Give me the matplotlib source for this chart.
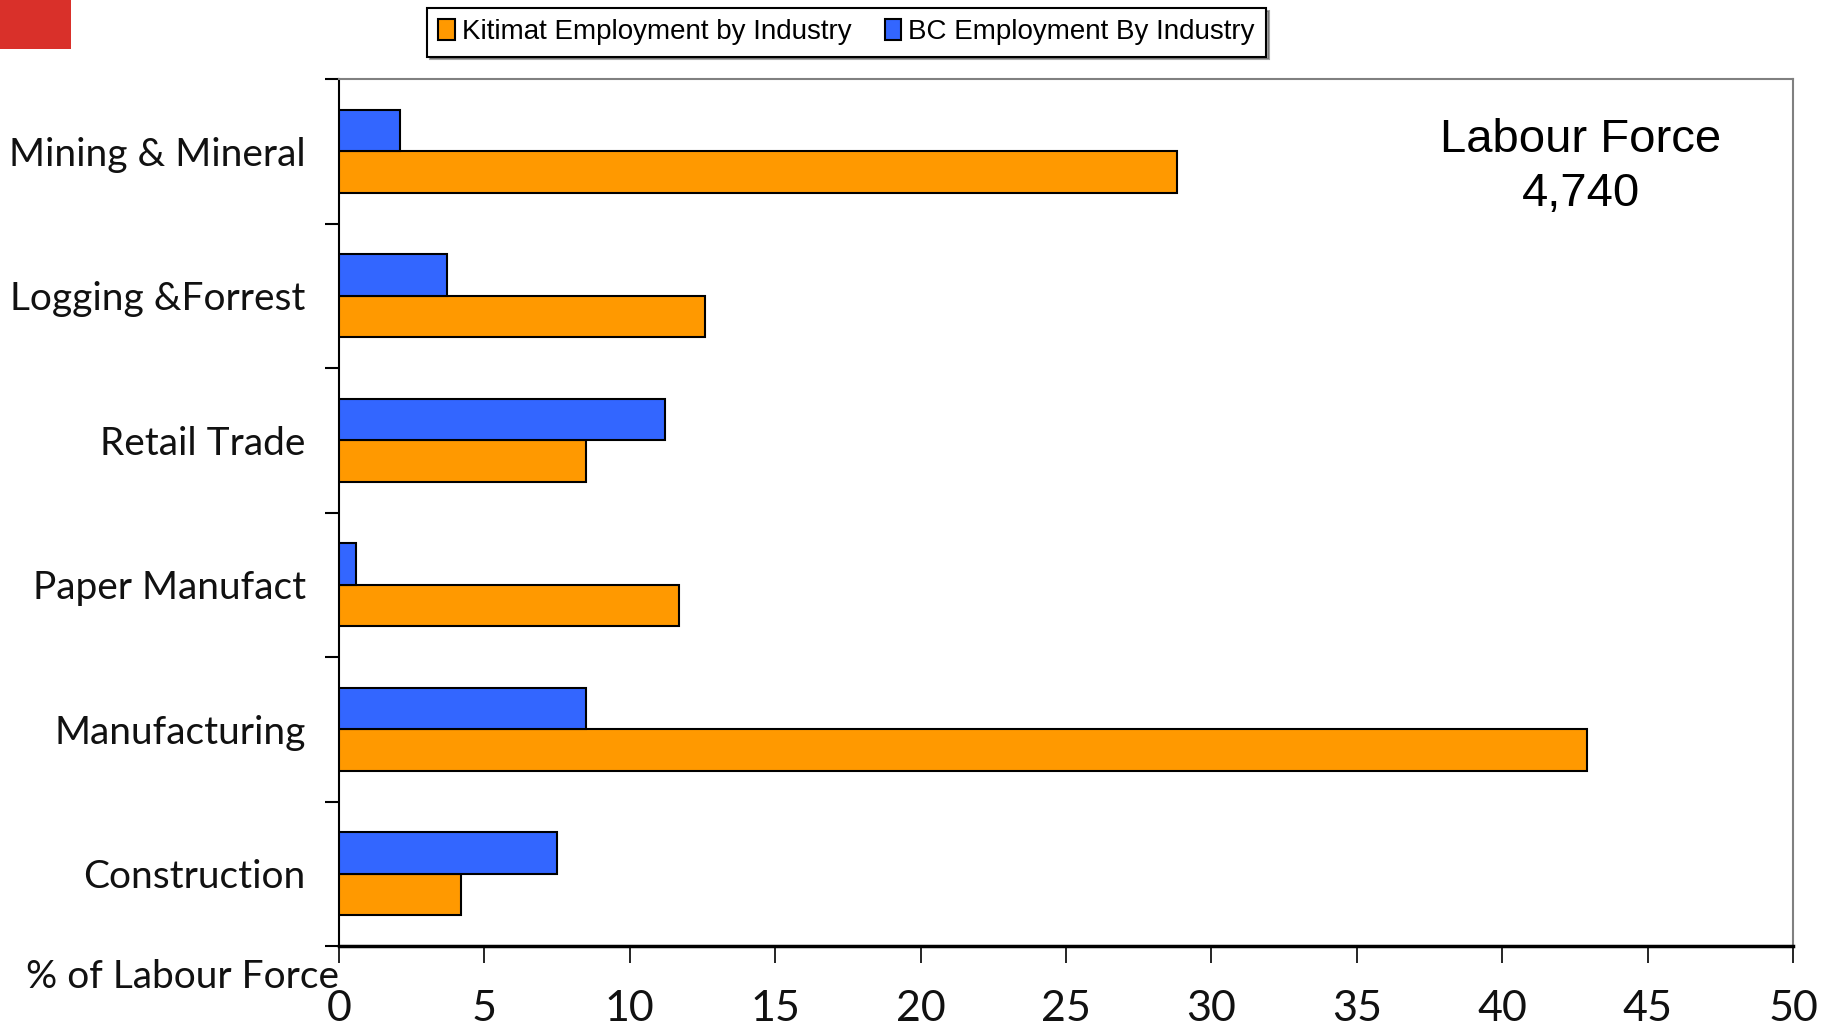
import matplotlib
matplotlib.use("Agg")
import matplotlib.pyplot as plt
import numpy as np
from matplotlib.patches import Rectangle

categories = ["Mining & Mineral", "Logging &Forrest", "Retail Trade",
              "Paper Manufact", "Manufacturing", "Construction"]
kitimat = [28.8, 12.6, 8.5, 11.7, 42.9, 4.2]
bc = [2.1, 3.7, 11.2, 0.6, 8.5, 7.5]
xticks = [0, 5, 10, 15, 20, 25, 30, 35, 40, 45, 50]
xtick_labels = ["0", "5", "10", "15", "20", "25", "30", "35", "40", "45", "50"]

ORANGE = "#FF9900"
BLUE = "#3366FF"

fig = plt.figure(figsize=(18.32, 10.28), dpi=100)
ax = fig.add_axes([339/1832, 1-946/1028, (1793-339)/1832, (946-79)/1028])

y = np.arange(len(categories))
h = 0.286
ax.barh(y + h/2, kitimat, height=h, color=ORANGE, edgecolor="black", linewidth=1.5,
        label="Kitimat Employment by Industry", zorder=3)
ax.barh(y - h/2, bc, height=h, color=BLUE, edgecolor="black", linewidth=1.5,
        label="BC Employment By Industry", zorder=3)

ax.set_xlim(0, 50)
ax.set_ylim(len(categories) - 0.5, -0.5)

# boundary ticks (major), labels at centers (minor)
ax.set_yticks(np.arange(-0.5, len(categories), 1.0))
ax.set_yticklabels([])
ax.set_yticks(y, minor=True)
ax.set_yticklabels(categories, minor=True, fontfamily="Lato", fontweight="normal",
                   fontsize=28, color="#111111")
ax.tick_params(axis="y", which="major", length=10, width=1.5, direction="out", color="black")
ax.tick_params(axis="y", which="minor", length=0, pad=24)

ax.set_xticks(xticks)
ax.set_xticklabels(xtick_labels, fontfamily="Lato", fontweight="normal", fontsize=31,
                   color="#111111")
ax.tick_params(axis="x", which="major", length=12, width=1.2, direction="out", pad=20)

for s in ["top", "right"]:
    ax.spines[s].set_color("#808080")
    ax.spines[s].set_linewidth(1.5)
ax.spines["left"].set_color("black")
ax.spines["left"].set_linewidth(1.5)
ax.spines["bottom"].set_color("black")
ax.spines["bottom"].set_linewidth(2.5)

fig.text(339/1832, 1-977/1028, "% of Labour Force", ha="right", va="center",
         fontfamily="Lato", fontweight="normal", fontsize=28, color="#111111")

fig.text(1581/1832, 1-167/1028, "Labour Force\n4,740", ha="center", va="center",
         fontfamily="Liberation Sans", fontsize=34, linespacing=1.31)

# red block in top-left
fig.add_artist(Rectangle((0, 1-49/1028), 71/1832, 49/1028, transform=fig.transFigure,
                         facecolor="#D9302A", edgecolor="none"))

leg = fig.legend(loc="upper left", bbox_to_anchor=(427/1832, 1-8/1028), ncol=2,
                 prop={"family": "Liberation Sans", "size": 20},
                 frameon=True, fancybox=False, shadow=True, edgecolor="black",
                 handlelength=0.6, handleheight=0.8, handletextpad=0.25,
                 columnspacing=1.2, borderpad=0.4, borderaxespad=0)
leg.get_frame().set_linewidth(1.5)

fig.savefig("out.png", dpi=100)
